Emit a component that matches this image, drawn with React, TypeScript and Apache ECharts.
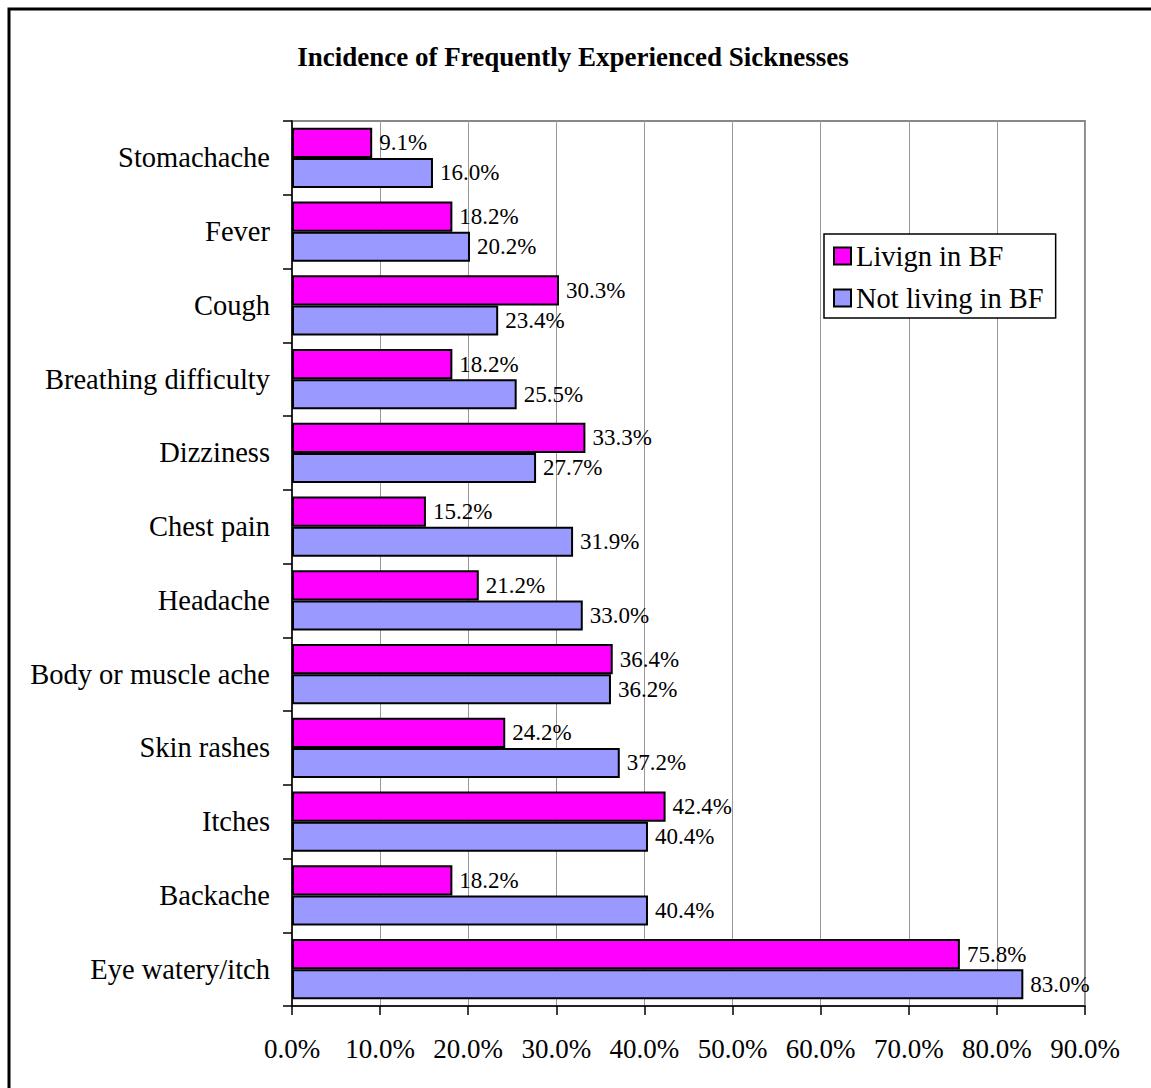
import React, { useEffect, useRef } from "react";
import * as echarts from "echarts";

const categories = [
  "Eye watery/itch",
  "Backache",
  "Itches",
  "Skin rashes",
  "Body or muscle ache",
  "Headache",
  "Chest pain",
  "Dizziness",
  "Breathing difficulty",
  "Cough",
  "Fever",
  "Stomachache",
];
const livingInBF = [75.8, 18.2, 42.4, 24.2, 36.4, 21.2, 15.2, 33.3, 18.2, 30.3, 18.2, 9.1];
const notLivingInBF = [83.0, 40.4, 40.4, 37.2, 36.2, 33.0, 31.9, 27.7, 25.5, 23.4, 20.2, 16.0];
const seriesNames = ["Livign in BF", "Not living in BF"];
const title = "Incidence of Frequently Experienced Sicknesses";

const FONT = "'Liberation Serif', 'Times New Roman', serif";

export default function App() {
  const ref = useRef<HTMLDivElement>(null);
  useEffect(() => {
    if (!ref.current) return;
    const chart = echarts.init(ref.current, null, { renderer: "svg" });
    const labelCfg = {
      show: true,
      position: "right",
      distance: 7,
      color: "#000",
      fontFamily: FONT,
      fontSize: 23,
      formatter: (p: any) => Number(p.value).toFixed(1) + "%",
    };
    chart.setOption({
      animation: false,
      backgroundColor: "#fff",
      title: {
        text: title,
        left: 568,
        textAlign: "center",
        top: 38,
        textStyle: { fontFamily: FONT, fontSize: 27, fontWeight: "bold", color: "#000" },
      },
      graphic: [
        {
          type: "rect",
          shape: { x: 9, y: 9, width: 1200, height: 1200 },
          style: { fill: "none", stroke: "#000", lineWidth: 3 },
          silent: true,
        },
      ],
      legend: {
        orient: "vertical",
        left: 824,
        top: 234,
        data: seriesNames,
        icon: "rect",
        itemWidth: 17,
        itemHeight: 17,
        itemGap: 12,
        padding: [7, 12, 5, 9],
        borderColor: "#000",
        borderWidth: 1.5,
        backgroundColor: "#fff",
        itemStyle: { borderColor: "#000", borderWidth: 2 },
        textStyle: { fontFamily: FONT, fontSize: 28.5, color: "#000", lineHeight: 30 },
      },
      grid: {
        left: 292,
        top: 121,
        width: 793,
        height: 885,
        show: true,
        borderColor: "#888",
        borderWidth: 2,
        backgroundColor: "transparent",
      },
      xAxis: {
        type: "value",
        min: 0,
        max: 90,
        interval: 10,
        axisLine: { show: true, lineStyle: { color: "#000", width: 1.5 } },
        axisTick: { show: true, length: 9, lineStyle: { color: "#000", width: 1.5 } },
        splitLine: { show: true, lineStyle: { color: "#999", width: 1 } },
        axisLabel: {
          margin: 29,
          color: "#000",
          fontFamily: FONT,
          fontSize: 27,
          formatter: (v: number) => v.toFixed(1) + "%",
        },
      },
      yAxis: {
        type: "category",
        data: categories,
        axisLine: { show: true, lineStyle: { color: "#000", width: 1.5 } },
        axisTick: { show: true, length: 9, lineStyle: { color: "#000", width: 1.5 } },
        axisLabel: {
          margin: 22,
          color: "#000",
          fontFamily: FONT,
          fontSize: 28.5,
        },
      },
      series: [
        {
          name: seriesNames[0],
          type: "bar",
          data: livingInBF,
          barGap: "0%",
          barCategoryGap: "18.6%",
          itemStyle: { color: "#FF00FF", borderColor: "#000", borderWidth: 2 },
          label: labelCfg,
        },
        {
          name: seriesNames[1],
          type: "bar",
          data: notLivingInBF,
          barGap: "0%",
          barCategoryGap: "18.6%",
          itemStyle: { color: "#9999FF", borderColor: "#000", borderWidth: 2 },
          label: labelCfg,
        },
      ],
    });
    return () => chart.dispose();
  }, []);
  return (
    <div
      ref={ref}
      style={{ position: "absolute", left: 0, top: 0, width: 1151, height: 1088 }}
    />
  );
}
